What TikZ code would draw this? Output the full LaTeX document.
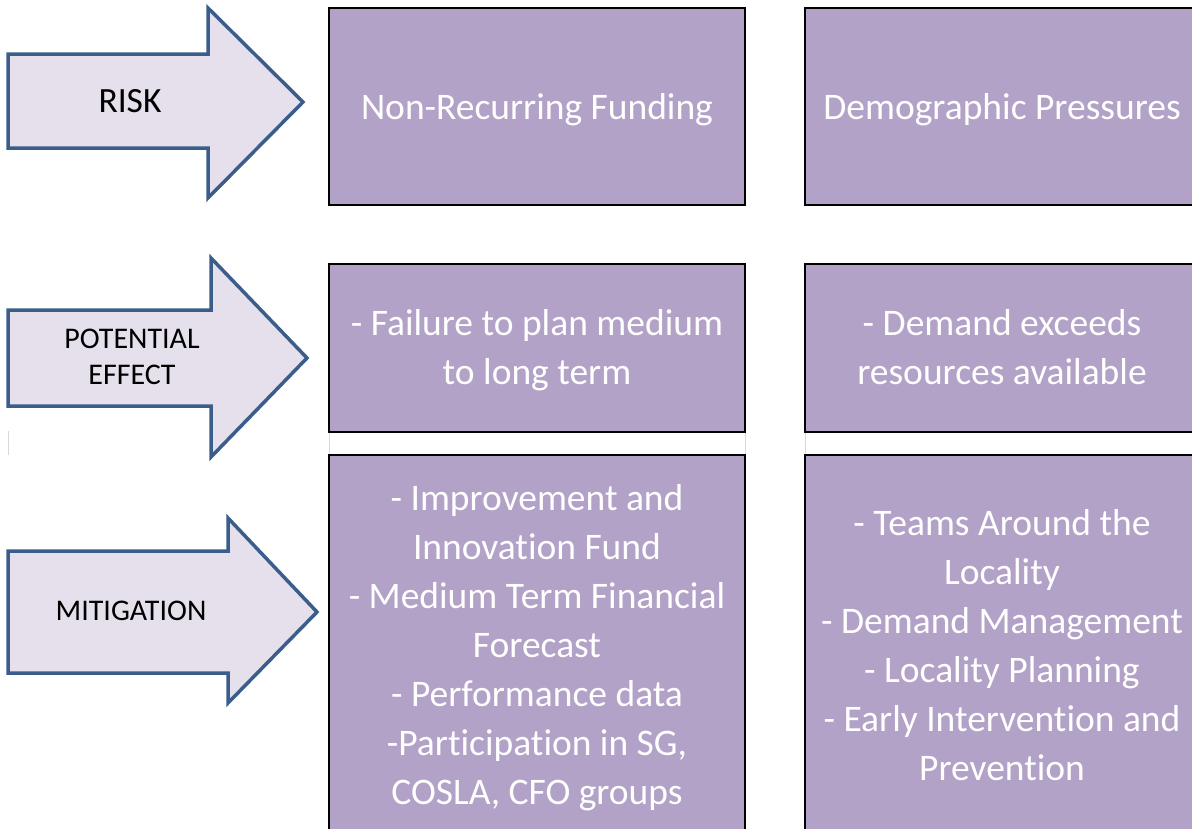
\documentclass[tikz,border=0pt]{standalone}
\usepackage{fontspec}
\setmainfont{Carlito}[Ligatures={NoCommon}]
\definecolor{cellfill}{HTML}{B2A2C7}
\definecolor{arrowfill}{HTML}{E5E0EC}
\definecolor{arrowline}{HTML}{3B5D8B}
\newcommand\cs{\rule[-12pt]{0pt}{49pt}}

\begin{document}
\begin{tikzpicture}[x=1pt, y=-1pt,
			cell/.style={draw=black, line width=2pt, fill=cellfill, text=white, align=center, inner sep=0pt, font=\fontsize{37.5}{49}\selectfont},
			bigarrow/.style={draw=arrowline, line width=3.5pt, fill=arrowfill, line join=miter},
			tag/.style={align=center, font=\fontsize{30}{36}\selectfont},
			ghost/.style={draw=black!15, line width=1pt}]
		\useasboundingbox (0,0) rectangle (1192,828);
		\clip (0,0) rectangle (1192,828);
		\draw[bigarrow] (8,54) -- (208,54) -- (208,8) -- (303,102) -- (208,198) -- (208,148) -- (8,148) -- cycle;
		\draw[bigarrow] (8,310) -- (211,310) -- (211,258) -- (307,358) -- (211,457) -- (211,406) -- (8,406) -- cycle;
		\draw[bigarrow] (8,551) -- (228,551) -- (228,518) -- (317,612) -- (228,703) -- (228,673) -- (8,673) -- cycle;
		\node[tag, font=\fontsize{35.5}{40}\selectfont] (risk) at (130,101) {RISK};
		\node[tag] (effect) at (132,357) {POTENTIAL\\EFFECT};
		\node[tag] (mitigation) at (131,611) {MITIGATION};
		\draw[ghost] (8,431) -- (8,455);
		\draw[ghost] (329,431) -- (329,455);
		\draw[ghost] (745,431) -- (745,455);
		\draw[ghost] (805,431) -- (805,455);
		\node[cell, minimum width=416pt, minimum height=197pt] (funding) at (537,106.5) {\cs Non-Recurring Funding};
		\node[cell, minimum width=394pt, minimum height=197pt] (demography) at (1002,106.5) {\cs Demographic Pressures};
		\node[cell, minimum width=416pt, minimum height=168pt] (failure) at (537,347.5) {\cs- Failure to plan medium\\to long term\cs};
		\node[cell, minimum width=394pt, minimum height=168pt] (demand) at (1002,347.5) {\cs- Demand exceeds\\resources available\cs};
		\node[cell, minimum width=416pt, minimum height=380pt] (fundmit) at (537,645) {\cs- Improvement and\\Innovation Fund\\- Medium Term Financial\\Forecast\\- Performance data\\-Participation in SG,\\COSLA, CFO groups\cs};
		\node[cell, minimum width=394pt, minimum height=380pt] (demandmit) at (1002,645) {\cs- Teams Around the\\Locality\\- Demand Management\\- Locality Planning\\- Early Intervention and\\Prevention\cs};
		\end{tikzpicture}
\end{document}
